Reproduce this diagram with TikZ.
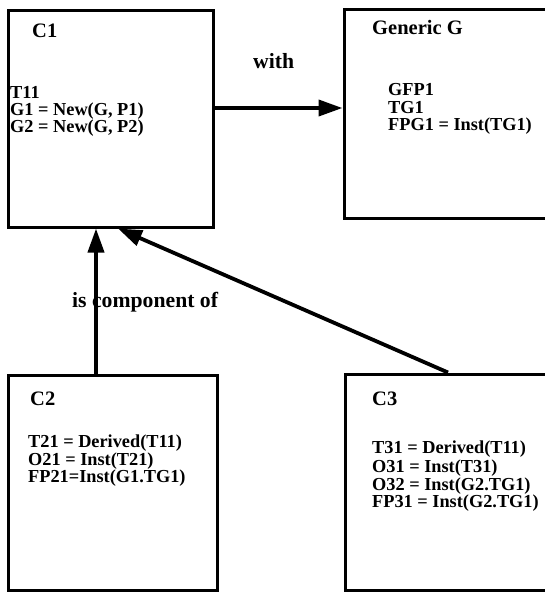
\documentclass[tikz,border=0pt]{standalone}
\usepackage{fontspec}
\setmainfont{Liberation Serif}
\usetikzlibrary{arrows.meta}
\begin{document}
\begin{tikzpicture}[x=1pt,y=-1pt,
  box/.style={draw, line width=3pt, rectangle, inner sep=0pt},
  txt/.style={anchor=base west, inner sep=0pt, font=\fontsize{18.3}{18}\selectfont\bfseries},
  ttl/.style={anchor=base west, inner sep=0pt, font=\fontsize{20.5}{20}\selectfont\bfseries},
  lbl/.style={anchor=base west, inner sep=0pt, font=\fontsize{21.7}{20}\selectfont\bfseries},
  arr/.style={line width=3.8pt, -{Triangle[length=24pt,width=16pt]}}]
\useasboundingbox (0,0) rectangle (545,595);
\begin{scope}
\clip (0,0) rectangle (545,595);
% boxes
\node[box, minimum width=205pt, minimum height=217pt] (C1) at (110.5,118.5) {};
\node[box, minimum width=230pt, minimum height=209pt] (G) at (459,113.5) {};
\node[box, minimum width=209pt, minimum height=215pt] (C2) at (112.5,482.5) {};
\node[box, minimum width=230pt, minimum height=216pt] (C3) at (460,482) {};
% C1 text
\node[ttl] (c1t) at (32,37) {C1};
\node[txt] (c1a) at (10,98) {T11};
\node[txt] (c1b) at (10,115) {G1 = New(G, P1)};
\node[txt] (c1c) at (10,132) {G2 = New(G, P2)};
% G text
\node[ttl] (gt) at (372,34) {Generic G};
\node[txt] (ga) at (388,95) {GFP1};
\node[txt] (gb) at (388,113) {TG1};
\node[txt] (gc) at (388,130) {FPG1 = Inst(TG1)};
% C2 text
\node[ttl] (c2t) at (30,405) {C2};
\node[txt] (c2a) at (28,447) {T21 = Derived(T11)};
\node[txt] (c2b) at (28,465) {O21 = Inst(T21)};
\node[txt] (c2c) at (28,482) {FP21=Inst(G1.TG1)};
% C3 text
\node[ttl] (c3t) at (372,405) {C3};
\node[txt] (c3a) at (372,453) {T31 = Derived(T11)};
\node[txt] (c3b) at (372,472) {O31 = Inst(T31)};
\node[txt] (c3c) at (372,490) {O32 = Inst(G2.TG1)};
\node[txt] (c3d) at (372,507) {FP31 = Inst(G2.TG1)};
% labels
\node[lbl] (with) at (253,68) {with};
\node[lbl] (comp) at (72,307) {is component of};
% connectors
\draw[arr] ([shift={(0,-10.5)}]C1.east) -- ([shift={(0,-5.5)}]G.west);
\draw[arr] ([shift={(-16.5,0)}]C2.north) -- ([shift={(-16.5,0)}]C2.north |- C1.south);
\draw[arr] ([shift={(-12,0)}]C3.north) -- ([shift={(7.5,0)}]C1.south);
\end{scope}
\end{tikzpicture}
\end{document}
